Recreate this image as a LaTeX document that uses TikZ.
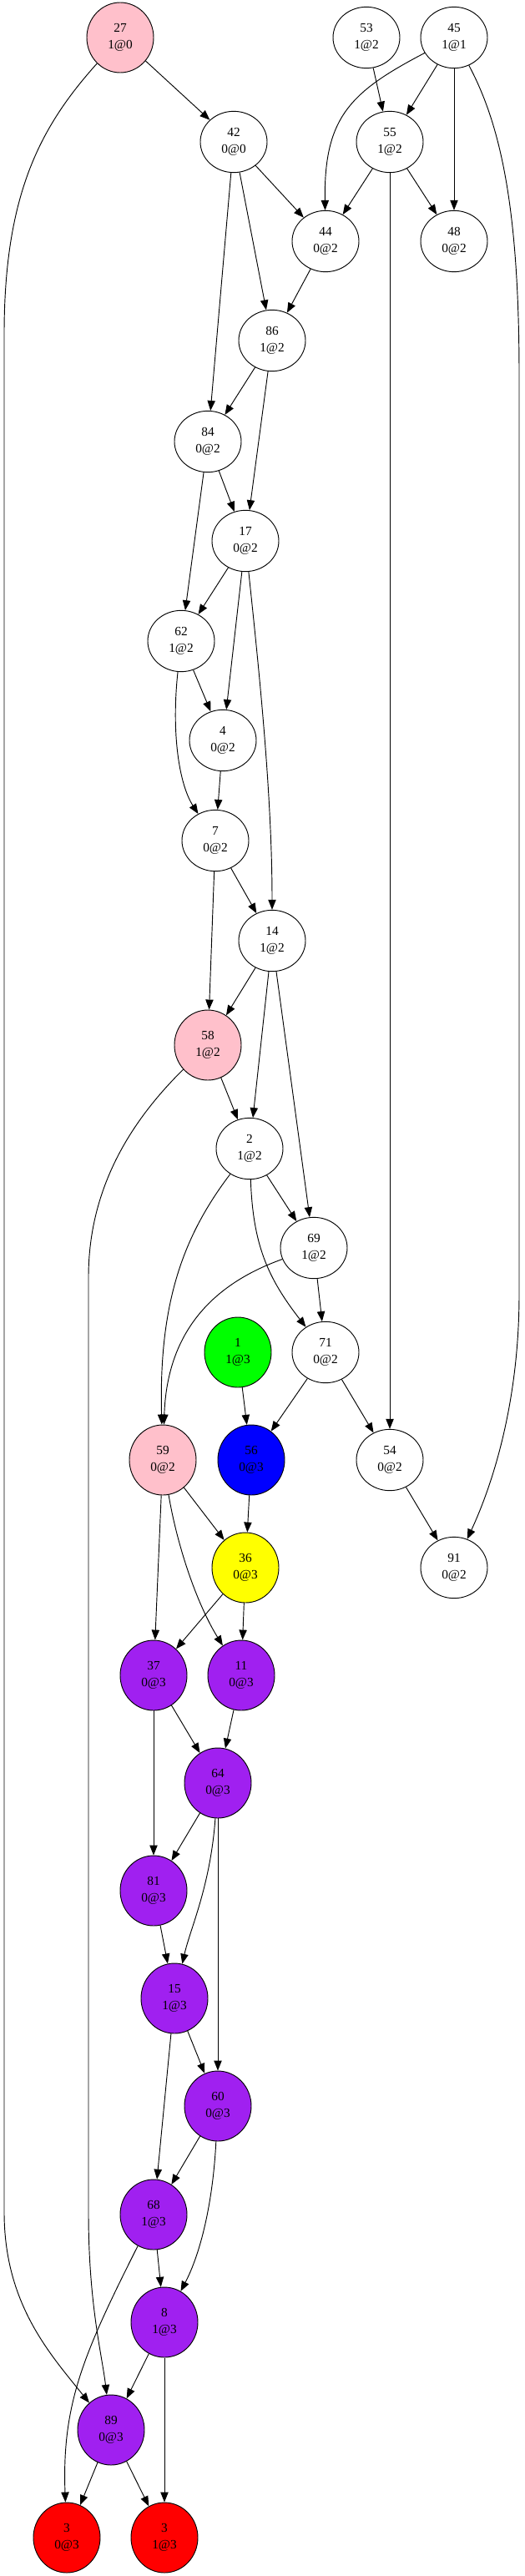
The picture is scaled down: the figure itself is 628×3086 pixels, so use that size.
\documentclass[tikz,border=0pt]{standalone}
\usepackage{fontspec}
\setmainfont{Liberation Serif}
\usepackage{tikz}
\usetikzlibrary{shapes.geometric,arrows.meta}

\definecolor{gvpink}{HTML}{FFC0CB}
\definecolor{gvgreen}{HTML}{00FF00}
\definecolor{gvblue}{HTML}{0000FF}
\definecolor{gvyellow}{HTML}{FFFF00}
\definecolor{gvpurple}{HTML}{A020F0}
\definecolor{gvred}{HTML}{FF0000}

\begin{document}
\begin{tikzpicture}[x=0.75pt, y=-0.75pt,
    wnode/.style={ellipse, draw, line width=0.7pt, fill=white, minimum width=60pt, minimum height=55pt,
        inner sep=0pt, align=center, font=\fontsize{11.5}{15}\selectfont},
    cnode/.style={wnode, minimum height=63pt, fill=#1},
    edge/.style={line width=0.7pt, -{Triangle[length=9pt, width=7pt]}}]
    \useasboundingbox (0,0) rectangle (628,3086);

    % nodes, top to bottom
    \node[cnode=gvpink] (n27) at (144,45) {27\\1@0};
    \node[wnode] (n53) at (439,45) {53\\1@2};
    \node[wnode] (n45) at (544,45) {45\\1@1};
    \node[wnode] (n42) at (280,170) {42\\0@0};
    \node[wnode] (n55) at (467,170) {55\\1@2};
    \node[wnode] (n44) at (390,289) {44\\0@2};
    \node[wnode] (n48) at (544,289) {48\\0@2};
    \node[wnode] (n86) at (326,408) {86\\1@2};
    \node[wnode] (n84) at (249,529) {84\\0@2};
    \node[wnode] (n17) at (294,648) {17\\0@2};
    \node[wnode] (n62) at (217,768) {62\\1@2};
    \node[wnode] (n4) at (267,887) {4\\0@2};
    \node[wnode] (n7) at (258,1007) {7\\0@2};
    \node[wnode] (n14) at (326,1127) {14\\1@2};
    \node[cnode=gvpink] (n58) at (249,1252) {58\\1@2};
    \node[wnode] (n2) at (299,1376) {2\\1@2};
    \node[wnode] (n69) at (376,1495) {69\\1@2};
    \node[cnode=gvgreen] (n1) at (285,1620) {1\\1@3};
    \node[wnode] (n71) at (390,1620) {71\\0@2};
    \node[cnode=gvpink] (n59) at (195,1749) {59\\0@2};
    \node[cnode=gvblue] (n56) at (301,1749) {56\\0@3};
    \node[wnode] (n54) at (467,1749) {54\\0@2};
    \node[cnode=gvyellow] (n36) at (294,1878) {36\\0@3};
    \node[wnode] (n91) at (544,1878) {91\\0@2};
    \node[cnode=gvpurple] (n37) at (184,2007) {37\\0@3};
    \node[cnode=gvpurple] (n11) at (289,2007) {11\\0@3};
    \node[cnode=gvpurple] (n64) at (261,2136) {64\\0@3};
    \node[cnode=gvpurple] (n81) at (184,2265) {81\\0@3};
    \node[cnode=gvpurple] (n15) at (209,2394) {15\\1@3};
    \node[cnode=gvpurple] (n60) at (261,2523) {60\\0@3};
    \node[cnode=gvpurple] (n68) at (184,2653) {68\\1@3};
    \node[cnode=gvpurple] (n8) at (197,2782) {8\\1@3};
    \node[cnode=gvpurple] (n89) at (133,2911) {89\\0@3};
    \node[cnode=gvred] (n3a) at (80,3040) {3\\0@3};
    \node[cnode=gvred] (n3b) at (197,3040) {3\\1@3};

    % straight edges
    \foreach \a/\b in {n27/n42, n53/n55, n45/n55, n45/n48, n42/n44, n42/n86, n42/n84,
        n55/n44, n55/n48, n55/n54, n44/n86, n86/n84, n86/n17, n84/n17, n84/n62,
        n17/n62, n17/n4, n62/n4, n4/n7, n7/n58, n7/n14, n14/n58, n14/n2, n14/n69,
        n58/n2, n2/n69, n69/n71, n1/n56, n71/n56, n71/n54, n54/n91, n59/n37,
        n59/n36, n56/n36, n36/n37, n36/n11, n37/n81, n37/n64, n11/n64, n64/n81,
        n64/n60, n81/n15, n15/n60, n15/n68, n60/n68, n68/n8, n8/n89, n8/n3b,
        n89/n3a, n89/n3b}
        \draw[edge] (\a) -- (\b);

    % curved edges
    \draw[edge] (n27) .. controls (50,150) and (5,230) .. (5,400) -- (5,2650)
        .. controls (5,2760) and (60,2820) .. (n89);
    \draw[edge] (n45) .. controls (420,110) and (388,140) .. (n44);
    \draw[edge] (n45) .. controls (600,150) and (622,250) .. (622,450) -- (622,1550)
        .. controls (622,1700) and (580,1800) .. (n91);
    \draw[edge] (n17) .. controls (310,800) and (326,950) .. (n14);
    \draw[edge] (n62) .. controls (205,880) and (215,940) .. (n7);
    \draw[edge] (n58) .. controls (160,1340) and (106,1420) .. (106,1530) -- (106,2650)
        .. controls (106,2760) and (122,2820) .. (n89);
    \draw[edge] (n2) .. controls (220,1480) and (190,1560) .. (n59);
    \draw[edge] (n69) .. controls (250,1540) and (200,1600) .. (n59);
    \draw[edge] (n2) .. controls (303,1490) and (320,1530) .. (n71);
    \draw[edge] (n59) .. controls (212,1850) and (235,1920) .. (n11);
    \draw[edge] (n64) .. controls (252,2260) and (228,2310) .. (n15);
    \draw[edge] (n60) .. controls (255,2640) and (240,2700) .. (n8);
    \draw[edge] (n68) .. controls (100,2820) and (74,2880) .. (n3a);
\end{tikzpicture}
\end{document}
